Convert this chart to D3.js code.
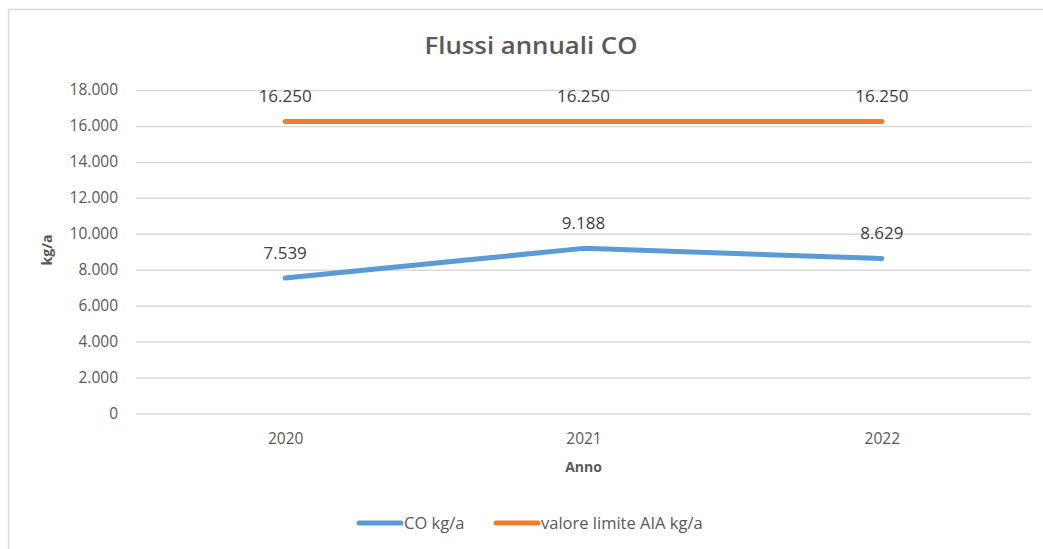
<!DOCTYPE html>
<html>
<head>
<meta charset="utf-8">
<script src="https://cdn.jsdelivr.net/npm/d3@7"></script>
<style>
  body { margin: 0; background: #fff; }
  text { font-family: "Open Sans", sans-serif; }
</style>
</head>
<body>
<div id="main"></div>
<script>
var years = ["2020", "2021", "2022"];
var coValues = [7539, 9188, 8629];
var limitValues = [16250, 16250, 16250];
var yTicks = [0, 2000, 4000, 6000, 8000, 10000, 12000, 14000, 16000, 18000];
var seriesNames = ["CO kg/a", "valore limite AIA kg/a"];
var seriesColors = ["#5b9bd5", "#ed7d31"];

var width = 1043, height = 549;
var plot = { left: 136, right: 1031, top: 90, bottom: 413.5 };

var fmt = function(v) { return d3.format(",")(v).replace(/,/g, "."); };

var svg = d3.select("#main")
        .append("svg")
        .attr("width", width)
        .attr("height", height);

// chart frame (cut off on the right and bottom in the picture)
svg.append("rect")
    .attr("x", 8.5).attr("y", 9.5)
    .attr("width", 1100).attr("height", 600)
    .attr("fill", "#fff")
    .attr("stroke", "#d9d9d9")
    .attr("stroke-width", 1.5);

var x = d3.scalePoint().domain(years).range([plot.left, plot.right]).padding(0.5);
var y = d3.scaleLinear().domain([0, 18000]).range([plot.bottom, plot.top]);

// gridlines + y labels
var yAxis = d3.axisLeft(y)
        .tickValues(yTicks)
        .tickSize(-(plot.right - plot.left))
        .tickPadding(18)
        .tickFormat(fmt);

var gy = svg.append("g")
        .attr("transform", "translate(" + plot.left + ",0)")
        .call(yAxis);
gy.select(".domain").remove();
gy.selectAll(".tick line").attr("stroke", "#d9d9d9").attr("stroke-width", 1.5);
gy.selectAll(".tick text")
    .attr("fill", "#595959")
    .style("font-size", "15.5px")
    .style("font-family", "Open Sans, sans-serif");

// x labels
var xAxis = d3.axisBottom(x).tickSize(0).tickPadding(19);
var gx = svg.append("g")
        .attr("transform", "translate(0," + plot.bottom + ")")
        .call(xAxis);
gx.select(".domain").remove();
gx.selectAll(".tick text")
    .attr("fill", "#595959")
    .style("font-size", "15.5px")
    .style("font-family", "Open Sans, sans-serif");

// title
svg.append("text")
    .attr("x", 531).attr("y", 54)
    .attr("text-anchor", "middle")
    .attr("fill", "#595959")
    .style("font-size", "24px")
    .style("font-weight", 600)
    .attr("textLength", 213)
    .attr("lengthAdjust", "spacingAndGlyphs")
    .text("Flussi annuali CO");

// axis titles
svg.append("text")
    .attr("x", x("2021")).attr("y", 472)
    .attr("text-anchor", "middle")
    .attr("fill", "#595959")
    .style("font-size", "14px")
    .style("font-weight", 700)
    .text("Anno");

svg.append("text")
    .attr("transform", "translate(52,250) rotate(-90)")
    .attr("text-anchor", "middle")
    .attr("fill", "#595959")
    .style("font-size", "14px")
    .style("font-weight", 700)
    .text("kg/a");

// lines
var line = d3.line()
        .x(function(d, i) { return x(years[i]); })
        .y(function(d) { return y(d); });

[coValues, limitValues].forEach(function(values, k) {
    svg.append("path")
        .datum(values)
        .attr("d", line)
        .attr("fill", "none")
        .attr("stroke", seriesColors[k])
        .attr("stroke-width", 5)
        .attr("stroke-linecap", "round")
        .attr("stroke-linejoin", "round");

    svg.append("g").selectAll("text")
        .data(values)
        .enter()
        .append("text")
        .attr("x", function(d, i) { return x(years[i]); })
        .attr("y", function(d) { return y(d) - 19; })
        .attr("text-anchor", "middle")
        .attr("fill", "#404040")
        .style("font-size", "17px")
        .text(fmt);
});

// legend
var legendX = [357, 494];
var legend = svg.append("g");
seriesNames.forEach(function(name, k) {
    legend.append("line")
        .attr("x1", legendX[k] + 2).attr("x2", legendX[k] + 44)
        .attr("y1", 523).attr("y2", 523)
        .attr("stroke", seriesColors[k])
        .attr("stroke-width", 5)
        .attr("stroke-linecap", "round");
    legend.append("text")
        .attr("x", legendX[k] + 47).attr("y", 529)
        .attr("fill", "#595959")
        .style("font-size", "16.5px")
        .text(name);
});
</script>
</body>
</html>
